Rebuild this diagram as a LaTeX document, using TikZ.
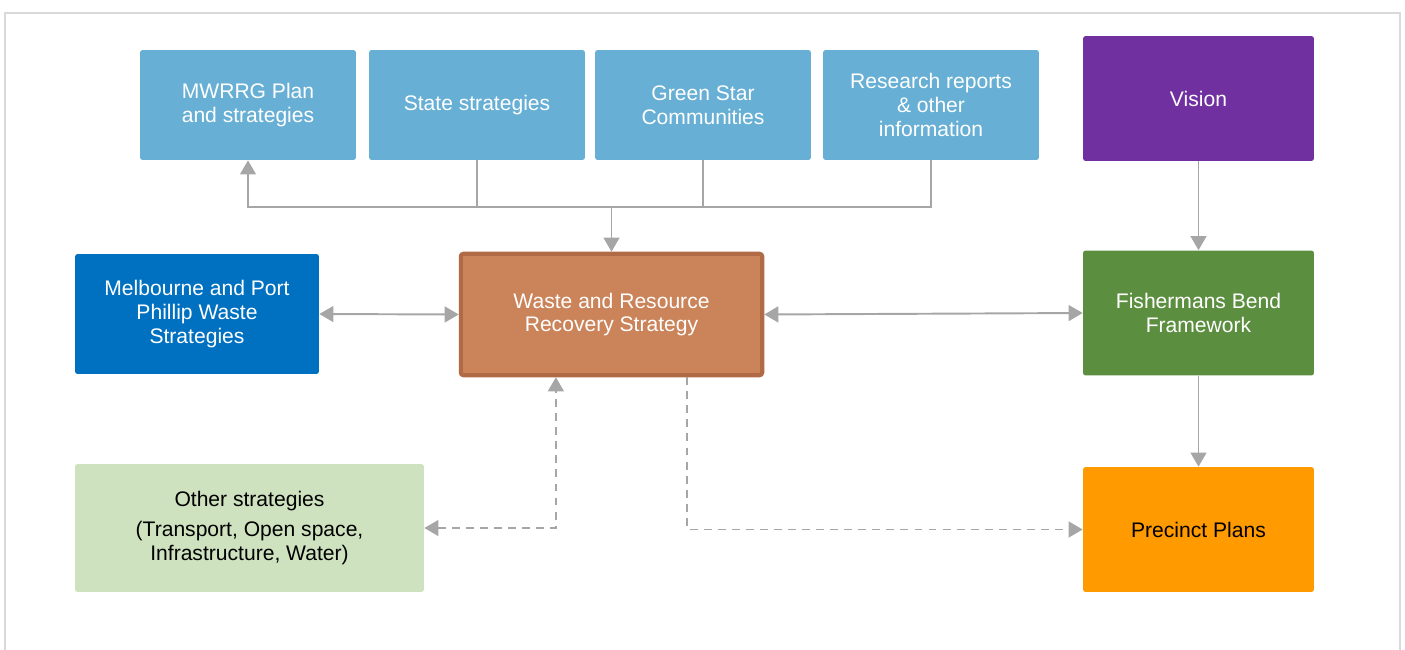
\documentclass[tikz,border=0pt]{standalone}
\usepackage{fontspec}
\setmainfont{Liberation Sans}
\usetikzlibrary{calc}
\usetikzlibrary{positioning}
\usetikzlibrary{arrows.meta}

\definecolor{topblue}{HTML}{67AFD4}
\definecolor{melbblue}{HTML}{0070C0}
\definecolor{visionpurple}{HTML}{7030A0}
\definecolor{fbgreen}{HTML}{5C8E3F}
\definecolor{plangold}{HTML}{FF9A00}
\definecolor{othergreen}{HTML}{CFE2BF}
\definecolor{wastefill}{HTML}{CB8359}
\definecolor{wasteedge}{HTML}{B06A45}
\definecolor{linkgray}{HTML}{A6A6A6}
\definecolor{framegray}{HTML}{D9D9D9}

\begin{document}
\begin{tikzpicture}[x=0.02cm, y=-0.02cm,
    box/.style = {rectangle, rounded corners=1.5pt, align=center, text=white,
                  font=\fontsize{12}{13.6}\selectfont, inner sep=2pt},
    topbox/.style = {box, fill=topblue, minimum width=4.32cm, minimum height=2.2cm},
    sidebox/.style = {box, minimum width=4.62cm, minimum height=2.5cm},
    link/.style = {draw=linkgray, line width=1.1pt},
    arr/.style = {link, -{Triangle[length=8pt, width=9pt]}},
    arrboth/.style = {link, {Triangle[length=8pt, width=9pt]}-{Triangle[length=8pt, width=9pt]}},
    dlink/.style = {link, dash pattern=on 4.5pt off 3.5pt}
]
    \useasboundingbox (0,0) rectangle (1405,649);

    % frame
    \draw[framegray, line width=1.2pt] (5,660) -- (5,13) -- (1400,13) -- (1400,660);

    % top row
    \node[topbox] (mwrrg)    at (248,105) {MWRRG Plan\\and strategies};
    \node[topbox] (state)    at (477,105) {State strategies};
    \node[topbox] (green)    at (703,105) {Green Star\\Communities};
    \node[topbox] (research) at (931,105) {Research reports\\\& other\\information};

    % right column
    \node[sidebox, fill=visionpurple] (vision)   at (1198.5,98.5) {Vision};
    \node[sidebox, fill=fbgreen]      (fish)     at (1198.5,313)  {Fishermans Bend\\Framework};
    \node[sidebox, fill=plangold, text=black] (precinct) at (1198.5,529.5) {Precinct Plans};

    % middle
    \node[box, fill=wastefill, draw=wasteedge, line width=2.3pt,
          minimum width=6.03cm, minimum height=2.43cm] (waste) at (611.5,314.5)
          {Waste and Resource\\Recovery Strategy};
    \node[box, fill=melbblue, minimum width=4.88cm, minimum height=2.4cm] (melb) at (197,314)
          {Melbourne and Port\\Phillip Waste\\Strategies};
    \node[box, fill=othergreen, text=black, minimum width=6.98cm, minimum height=2.56cm] (other) at (249.5,528)
          {Other strategies\\[4pt](Transport, Open space,\\Infrastructure, Water)};

    \coordinate (bus) at (waste.north |- 0,207);
    \coordinate (wsl) at ($(waste.south west)!0.318!(waste.south east)$);
    \coordinate (wsr) at ($(waste.south west)!0.748!(waste.south east)$);

    % connectors
    \draw[arr] (research.south) |- (mwrrg.south |- bus) -- (mwrrg.south);
    \draw[link] (state.south) -- (state.south |- bus);
    \draw[link] (green.south) -- (green.south |- bus);
    \draw[arr] (bus) -- (waste.north);

    \draw[arrboth] (melb.east) -- (waste.west);
    \draw[arrboth] (waste.east) -- (fish.west);
    \draw[arr] (vision.south) -- (fish.north);
    \draw[arr] (fish.south) -- (precinct.north);

    \draw[dlink, {Triangle[length=8pt, width=9pt]}-{Triangle[length=8pt, width=9pt]}] (other.east) -| (wsl);
    \draw[dlink, -{Triangle[length=8pt, width=9pt]}] (wsr) |- (precinct.west);
\end{tikzpicture}
\end{document}
